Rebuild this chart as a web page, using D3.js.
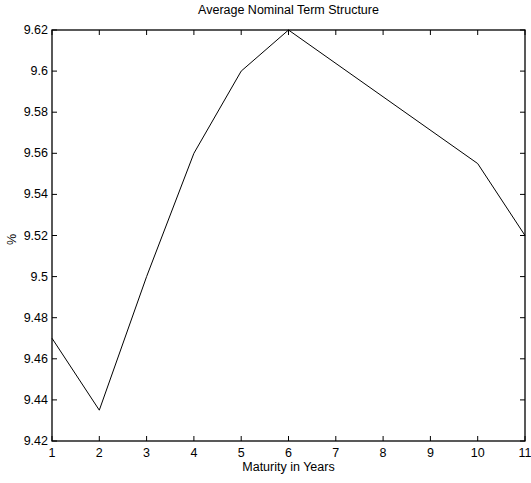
<!DOCTYPE html>
<html>
<head>
<meta charset="utf-8">
<script src="https://cdn.jsdelivr.net/npm/d3@7"></script>
<style>
  body { margin: 0; background: #fff; }
  text { font-family: "Liberation Sans", Arial, sans-serif; fill: #000; }
</style>
</head>
<body>
<div id="chart"></div>
<script>
const maturities = [1, 2, 3, 4, 5, 6, 10, 11];
const yields = [9.47, 9.435, 9.50, 9.56, 9.60, 9.62, 9.555, 9.52];
const xTicks = [1, 2, 3, 4, 5, 6, 7, 8, 9, 10, 11];
const yTicks = [9.42, 9.44, 9.46, 9.48, 9.5, 9.52, 9.54, 9.56, 9.58, 9.6, 9.62];

const width = 531, height = 483;
const margin = { top: 30, left: 52, bottom: 42, right: 6 };
const w = width - margin.left - margin.right;
const h = height - margin.top - margin.bottom;

const data = maturities.map((m, i) => ({ m, v: yields[i] }));

const svg = d3.select("#chart").append("svg")
    .attr("width", width)
    .attr("height", height);

const g = svg.append("g").attr("transform", `translate(${margin.left},${margin.top})`);

const x = d3.scaleLinear().domain([1, 11]).range([0, w]);
const y = d3.scaleLinear().domain([9.42, 9.62]).range([h, 0]);

// ticks pointing inward, matlab style
const tickLen = 5;
g.append("g")
    .selectAll("line")
    .data(xTicks)
    .join("line")
    .attr("x1", d => x(d)).attr("x2", d => x(d))
    .attr("y1", h).attr("y2", h - tickLen)
    .attr("stroke", "#000");
g.append("g")
    .selectAll("line")
    .data(xTicks)
    .join("line")
    .attr("x1", d => x(d)).attr("x2", d => x(d))
    .attr("y1", 0).attr("y2", tickLen)
    .attr("stroke", "#000");
g.append("g")
    .selectAll("line")
    .data(yTicks)
    .join("line")
    .attr("x1", 0).attr("x2", tickLen)
    .attr("y1", d => y(d)).attr("y2", d => y(d))
    .attr("stroke", "#000");
g.append("g")
    .selectAll("line")
    .data(yTicks)
    .join("line")
    .attr("x1", w).attr("x2", w - tickLen)
    .attr("y1", d => y(d)).attr("y2", d => y(d))
    .attr("stroke", "#000");

// box
g.append("rect")
    .attr("x", 0).attr("y", 0)
    .attr("width", w).attr("height", h)
    .attr("fill", "none")
    .attr("stroke", "#000")
    .attr("stroke-width", 1.3);

// tick labels
g.append("g")
    .selectAll("text")
    .data(xTicks)
    .join("text")
    .attr("x", d => x(d))
    .attr("y", h + 16)
    .attr("text-anchor", "middle")
    .style("font-size", "12.5px")
    .text(d => d);
g.append("g")
    .selectAll("text")
    .data(yTicks)
    .join("text")
    .attr("x", -4)
    .attr("y", d => y(d) + 4)
    .attr("text-anchor", "end")
    .style("font-size", "12.5px")
    .text(d => d3.format("")(d));

const line = d3.line().x(d => x(d.m)).y(d => y(d.v));
g.append("path")
    .datum(data)
    .attr("d", line)
    .attr("fill", "none")
    .attr("stroke", "#000")
    .attr("stroke-width", 1);

// titles
svg.append("text")
    .attr("x", margin.left + w / 2)
    .attr("y", 14)
    .attr("text-anchor", "middle")
    .style("font-size", "12.5px")
    .text("Average Nominal Term Structure");
svg.append("text")
    .attr("x", margin.left + w / 2)
    .attr("y", margin.top + h + 30)
    .attr("text-anchor", "middle")
    .style("font-size", "12.5px")
    .text("Maturity in Years");
svg.append("text")
    .attr("transform", `translate(16,${margin.top + h / 2 + 4}) rotate(-90)`)
    .attr("text-anchor", "middle")
    .style("font-size", "12.5px")
    .text("%");
</script>
</body>
</html>
